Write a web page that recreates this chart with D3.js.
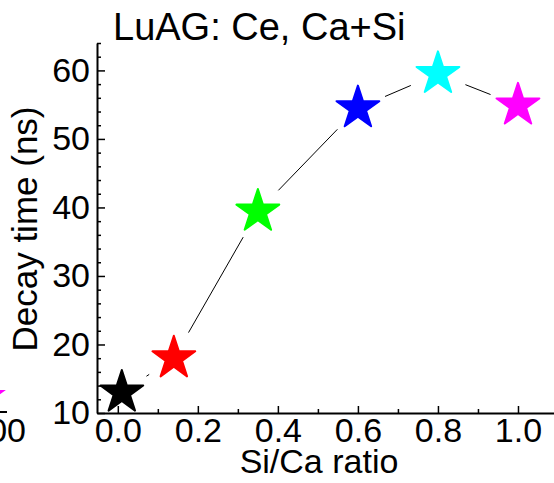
<!DOCTYPE html>
<html lang="en">
<head>
<meta charset="UTF-8">
<title>LuAG: Ce, Ca+Si</title>
<script src="https://d3js.org/d3.v7.min.js"></script>
<style>
  body { margin: 0; background: #fff; }
  text { font-family: "Liberation Sans", Arial, sans-serif; fill: #000; }
</style>
</head>
<body>
<script>
// data
const ratios = [0.01, 0.14, 0.35, 0.60, 0.80, 1.00];
const decayTimes = [13.0, 18.0, 39.4, 54.5, 59.5, 54.9];
const starColors = ['#000000', '#ff0000', '#00ff00', '#0000ff', '#00ffff', '#ff00ff'];
const xTicks = [0, 0.2, 0.4, 0.6, 0.8, 1.0];
const xMinorTicks = [0.1, 0.3, 0.5, 0.7, 0.9];
const yTicks = [10, 20, 30, 40, 50, 60];
const yMinorTicks = [12, 14, 16, 18, 22, 24, 26, 28, 32, 34, 36, 38, 42, 44, 46, 48, 52, 54, 56, 58, 62, 64];

// cut-off piece of the neighbouring panel on the left
const neighbourX = [100];
const neighbourTickLabels = ['100'];

const width = 554, height = 483;

const svg = d3.select('body').append('svg')
  .attr('width', width).attr('height', height);

let x = d3.scaleLinear().domain([-0.052, 1.09]).range([97, 554]);
let y = d3.scaleLinear().domain([10, 64]).range([413, 43]);

// minor ticks first, then major axes on top
svg.append('g').attr('transform', `translate(0,${y(10)})`)
  .call(d3.axisBottom(x).tickValues(xMinorTicks).tickSize(-4).tickFormat(''))
  .call(g => g.select('.domain').remove());
svg.append('g').attr('transform', `translate(${x.range()[0]},0)`)
  .call(d3.axisLeft(y).tickValues(yMinorTicks).tickSize(-4).tickFormat(''))
  .call(g => g.select('.domain').remove());

const xAxis = svg.append('g').attr('transform', `translate(0,${y(10)})`)
  .call(d3.axisBottom(x).tickValues(xTicks).tickSize(-7).tickSizeOuter(0).tickPadding(5).tickFormat(d3.format('.1f')));
const yAxis = svg.append('g').attr('transform', `translate(${x.range()[0]},0)`)
  .call(d3.axisLeft(y).tickValues(yTicks).tickSize(-8).tickSizeOuter(0).tickPadding(7));

svg.selectAll('.tick line').attr('stroke', '#000').attr('stroke-width', 1.5);
svg.selectAll('.domain').attr('stroke', '#000').attr('stroke-width', 2);
svg.selectAll('.tick text').style('font-size', '34px').attr('fill', '#000');

// connecting line, broken around each star
const pts = ratios.map((r, i) => [x(r), y(decayTimes[i])]);
const gap = 29.5;
const segs = d3.pairs(pts).map(([a, b]) => {
  const dx = b[0] - a[0], dy = b[1] - a[1];
  const len = Math.hypot(dx, dy);
  const ux = dx / len, uy = dy / len;
  return [a[0] + ux * gap, a[1] + uy * gap, b[0] - ux * gap, b[1] - uy * gap, len];
}).filter(s => s[4] > 2 * gap);

svg.append('g').selectAll('line')
  .data(segs)
  .join('line')
  .attr('x1', d => d[0]).attr('y1', d => d[1])
  .attr('x2', d => d[2]).attr('y2', d => d[3])
  .attr('stroke', '#000').attr('stroke-width', 1);

// stars
const R = 22.5;
const star = d3.symbol().type(d3.symbolStar).size(R * R / 0.8908130915292852);
svg.append('g').selectAll('path')
  .data(ratios)
  .join('path')
  .attr('transform', (d, i) => `translate(${x(d)},${y(decayTimes[i])})`)
  .attr('d', star)
  .attr('fill', (d, i) => starColors[i])
  .attr('stroke', (d, i) => starColors[i])
  .attr('stroke-width', 2)
  .attr('stroke-linejoin', 'round');

// neighbour panel fragment
const nx = d3.scaleLinear().domain([0, 100]).range([-400, 7]);
svg.append('line')
  .attr('x1', 0).attr('x2', nx(100))
  .attr('y1', 412).attr('y2', 412)
  .attr('stroke', '#000').attr('stroke-width', 2);
svg.selectAll('.ntick')
  .data(neighbourX)
  .join('text')
  .attr('class', 'ntick')
  .attr('x', d => nx(d) + 19)
  .attr('y', 442)
  .attr('text-anchor', 'end')
  .style('font-size', '34px')
  .text((d, i) => neighbourTickLabels[i]);
svg.append('path')
  .attr('transform', 'translate(-15.5,397)')
  .attr('d', star)
  .attr('fill', '#ff00ff');

// titles
svg.append('text')
  .attr('x', 113).attr('y', 40)
  .style('font-size', '38px')
  .text('LuAG: Ce, Ca+Si');

svg.append('text')
  .attr('x', 319).attr('y', 473)
  .attr('text-anchor', 'middle')
  .style('font-size', '34px')
  .text('Si/Ca ratio');

svg.append('text')
  .attr('transform', 'translate(37,229) rotate(-90)')
  .attr('text-anchor', 'middle')
  .style('font-size', '35px')
  .text('Decay time (ns)');
</script>
</body>
</html>
